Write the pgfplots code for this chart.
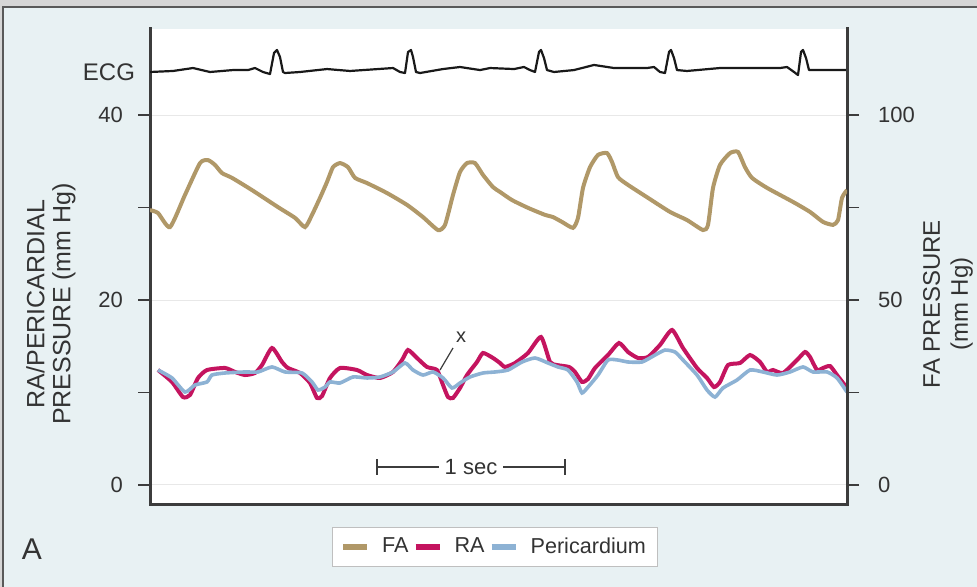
\documentclass[border=0pt]{standalone}
\usepackage{fontspec}
\setmainfont{Liberation Sans}
\usepackage{pgfplots}
\pgfplotsset{compat=1.18}
\usepackage{pgfplotstable}

\definecolor{fa}{HTML}{B09868}
\definecolor{ra}{HTML}{C4145F}
\definecolor{pe}{HTML}{8DB2D4}
\definecolor{axc}{HTML}{3C3C3C}
\definecolor{txt}{HTML}{333333}
\definecolor{panel}{HTML}{E8F1F3}
\definecolor{band}{HTML}{D6D6D6}

% x: time position along the trace (axis spans 150..847, 188 units = 1 s)
\pgfplotstableread{
x y
150 74.3
158 73.5
170 69.7
185 78.4
200 87.0
208 87.8
215 86.5
222 84.3
232 83.0
252 79.7
278 75.1
295 72.2
305 69.7
312 73.0
320 77.6
327 81.9
333 85.9
340 87.0
348 85.9
355 83.0
367 81.6
387 78.9
407 75.7
423 72.4
438 68.9
445 70.3
453 78.4
460 84.6
467 87.0
475 87.0
483 83.8
493 80.5
500 79.2
512 77.0
528 74.9
545 73.0
553 72.4
562 71.1
573 69.5
578 72.2
583 80.3
590 85.9
598 89.2
607 89.7
612 87.3
618 83.2
628 81.1
648 77.6
670 73.8
687 71.6
703 68.9
708 70.3
713 80.3
720 86.5
730 89.7
738 90.0
745 85.9
752 83.0
767 80.3
793 76.5
810 73.8
823 71.1
833 70.3
838 71.6
842 77.6
847 79.7
}\fatable

\pgfplotstableread{
x y
158 12.43
172 11.14
183 9.51
190 9.73
198 11.57
207 12.43
225 12.65
235 12.22
245 11.89
255 12.11
262 12.97
272 14.81
282 13.30
288 12.65
300 12.11
310 11.03
317 9.41
322 9.62
330 11.57
340 12.65
357 12.43
367 11.89
380 11.57
393 12.22
402 13.51
408 14.59
417 13.73
427 12.76
437 12.43
443 10.81
448 9.51
453 9.41
460 10.49
467 11.89
477 13.30
483 14.27
493 13.73
500 13.19
505 12.76
515 13.19
528 14.27
541 16.00
550 13.30
557 12.97
569 12.76
575 12.22
582 11.14
588 11.46
595 12.65
608 14.05
619 15.35
628 14.38
638 13.73
648 13.84
660 15.14
672 16.76
683 14.81
697 12.65
707 11.57
714 10.59
720 11.14
728 12.97
740 13.19
750 14.05
760 13.30
767 12.22
773 12.43
783 12.11
797 13.51
805 14.38
810 13.84
817 12.43
823 12.65
830 12.86
837 11.89
847 10.49
}\ratable

\pgfplotstableread{
x y
158 12.43
172 11.57
185 10.05
195 10.81
207 11.14
212 11.89
225 12.11
245 12.22
258 12.22
272 12.76
285 12.22
302 12.11
312 11.14
318 10.27
325 10.59
330 11.14
340 11.03
353 11.68
367 11.57
380 11.68
393 12.22
405 13.19
413 12.43
423 11.89
433 12.22
443 11.57
452 10.49
460 11.03
470 11.68
483 12.11
495 12.22
508 12.43
522 13.30
535 13.73
548 13.19
558 12.76
568 12.43
577 11.14
582 9.95
588 10.59
598 11.89
608 13.51
618 13.51
628 13.30
642 13.30
655 14.05
665 14.59
675 14.38
683 13.51
697 11.89
707 10.27
715 9.51
723 10.49
737 11.35
750 12.43
763 12.22
777 11.89
790 12.22
803 12.76
813 12.22
827 12.22
837 11.57
847 10.05
}\petable

\pgfplotstableread{
x y
150 44.65
173 44.76
193 45.08
210 44.65
233 44.86
248 44.86
255 45.08
263 44.65
270 44.43
274 46.70
277 47.03
280 46.27
283 44.65
285 44.54
300 44.65
327 44.97
350 44.76
393 45.08
400 44.65
405 44.54
408 46.81
411 47.03
413 46.27
416 44.65
420 44.54
443 44.97
460 45.19
480 44.86
490 45.08
514 44.97
524 45.19
530 44.86
535 44.65
539 46.81
541 47.03
544 46.16
547 44.86
554 44.65
574 44.86
594 45.41
614 45.08
647 45.08
654 45.19
660 44.65
665 44.54
669 46.81
671 47.03
674 46.16
677 44.86
687 44.76
720 45.08
747 45.08
780 45.08
787 45.19
794 44.65
798 44.32
801 46.81
803 47.03
806 46.16
809 44.86
847 44.86
}\ecgtable

\begin{document}
\begin{tikzpicture}
\useasboundingbox (0,0) rectangle (488.5pt,293.5pt);
\fill[band] (0,0) rectangle (488.5pt,293.5pt);
\fill[panel] (1.5pt,0) rectangle (488.5pt,290pt);
\draw[color=black!65, line width=0.9pt] (1.5pt,0) -- (1.5pt,290pt) -- (488.5pt,290pt);

\pgfplotsset{common/.style={scale only axis, width=348.5pt, height=238pt,
  at={(75pt,41pt)}, anchor=south west, xmin=150, xmax=847, xtick=\empty,
  tick align=outside, major tick length=6pt, minor tick length=6pt,
  every tick/.style={axc, line width=0.8pt},
  axis line style={-, axc, line width=1.5pt, line cap=rect},
  yticklabel style={font=\fontsize{11}{13}\selectfont, text=txt}}}

\begin{axis}[common, ymin=-2.162, ymax=49.30,
  axis x line*=bottom, axis y line*=left,
  ytick={0,20,40}, yticklabels={0,20,40}, minor ytick={10,30},
  ymajorgrids, major grid style={color=black!9, line width=0.5pt},
  yticklabel style={xshift=-4pt},
  axis background/.style={fill=white}]
\addplot[ra, line width=2pt, smooth, tension=0.35] table[x=x,y=y]{\ratable};
\addplot[pe, line width=1.8pt, smooth, tension=0.35] table[x=x,y=y]{\petable};
\addplot[black!90, line width=1.1pt, line join=round] table[x=x,y=y]{\ecgtable};
\draw[axc, line width=0.6pt] (axis cs:377,1.95) -- (axis cs:565,1.95);
\draw[axc, line width=0.6pt] (axis cs:377,1.1) -- (axis cs:377,2.8);
\draw[axc, line width=0.6pt] (axis cs:565,1.1) -- (axis cs:565,2.8);
\node[fill=white, inner xsep=3pt, inner ysep=1pt, text=txt, font=\fontsize{11}{13}\selectfont] at (axis cs:471,1.95) {1 sec};
\draw[axc, line width=0.6pt] (axis cs:440,12.43) -- (axis cs:453,14.81);
\node[text=txt, font=\fontsize{10}{12}\selectfont] at (axis cs:461,16.0) {x};
\end{axis}

\begin{axis}[common, ymin=-5.405, ymax=123.24,
  axis x line=none, axis y line*=right,
  ytick={0,50,100}, yticklabels={0,50,100}, minor ytick={25,75},
  yticklabel style={xshift=6pt},
  legend style={at={(0.495,-0.088)}, anchor=center, draw=black!25, fill=white,
    font=\fontsize{10.8}{12}\selectfont, text=txt, legend columns=-1,
    inner xsep=4pt, inner ysep=3pt,
    /tikz/every odd column/.append style={column sep=4pt}},
  legend image code/.code={\draw[#1, line width=3pt] (0pt,0pt) -- (12pt,0pt);}]
\addplot[fa, line width=2pt, smooth, tension=0.35] table[x=x,y=y]{\fatable};
\addlegendentry{FA}
\addlegendimage{ra}
\addlegendentry{RA}
\addlegendimage{pe}
\addlegendentry{Pericardium}
\end{axis}

\node[anchor=east, text=txt, font=\fontsize{12}{14}\selectfont] at (71pt,257.5pt) {ECG};
\node[rotate=90, align=center, text=txt, font=\fontsize{12.5}{13}\selectfont] at (25.5pt,141.5pt) {RA/PERICARDIAL\\PRESSURE (mm Hg)};
\node[rotate=90, align=center, text=txt, font=\fontsize{12}{14}\selectfont] at (474pt,141.5pt) {FA PRESSURE\\(mm Hg)};
\node[text=txt, font=\fontsize{15}{17}\selectfont] at (16pt,19pt) {A};
\end{tikzpicture}
\end{document}
